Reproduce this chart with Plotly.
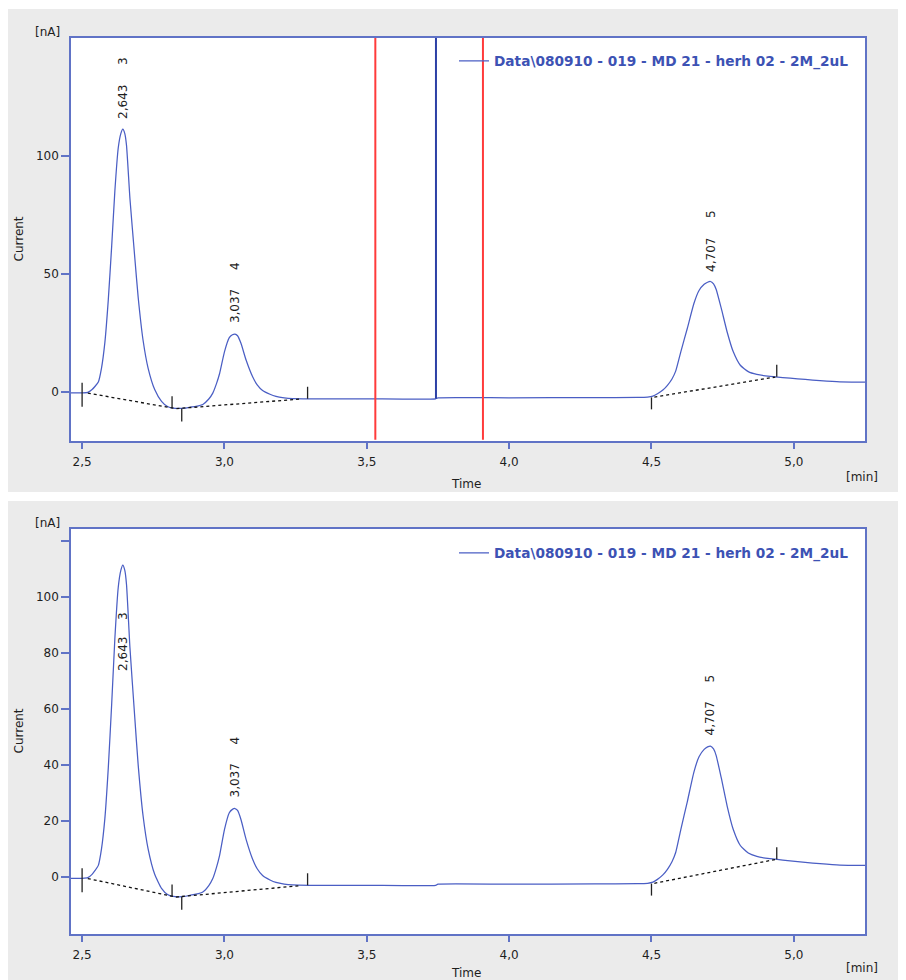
import plotly.graph_objects as go

# ---------------- data ----------------
time_min = [2.461, 2.50, 2.52, 2.535, 2.545, 2.557, 2.568, 2.580, 2.592, 2.604,
            2.615, 2.627, 2.636, 2.643, 2.650, 2.656, 2.668, 2.685, 2.697, 2.714,
            2.732, 2.755, 2.779, 2.80, 2.82, 2.84, 2.86, 2.878, 2.90, 2.924,
            2.945, 2.959, 2.972, 2.983, 3.000, 3.017, 3.028, 3.037, 3.046, 3.058,
            3.076, 3.099, 3.115, 3.134, 3.16, 3.181, 3.21, 3.24, 3.30, 3.50,
            3.742, 3.75, 4.00, 4.30, 4.45, 4.486, 4.505, 4.521, 4.54, 4.556,
            4.572, 4.585, 4.603, 4.626, 4.649, 4.667, 4.685, 4.697, 4.707, 4.718,
            4.727, 4.745, 4.766, 4.787, 4.812, 4.84, 4.87, 4.90, 4.935, 4.987,
            5.04, 5.092, 5.162, 5.25]
current_nA = [-0.4, -0.4, -0.2, 1.0, 2.3, 4.2, 10.0, 21.0, 39.0, 62.0,
              85.0, 103.5, 109.5, 111.4, 109.5, 104.5, 82.0, 57.0, 40.0, 22.0,
              10.0, 1.0, -4.0, -6.2, -6.9, -7.0, -6.9, -6.5, -6.1, -5.3,
              -3.0, -0.5, 3.5, 7.8, 17.0, 23.0, 24.2, 24.5, 23.8, 20.6,
              13.5, 6.4, 3.0, 0.6, -1.0, -1.9, -2.5, -2.8, -2.9, -2.9,
              -2.9, -2.5, -2.5, -2.4, -2.35, -2.2, -1.8, -0.8, 0.8, 2.8,
              5.5, 8.8, 17.0, 27.0, 37.5, 43.0, 45.6, 46.5, 46.8, 45.8,
              43.5, 35.5, 25.3, 17.1, 11.3, 8.6, 7.4, 6.8, 6.4, 5.8,
              5.3, 4.8, 4.3, 4.2]

series_name = "Data\\080910 - 019 - MD 21 - herh 02 - 2M_2uL"

peak_times = [2.643, 3.037, 4.707]
peak_heights = [111.4, 24.5, 46.8]
peak_time_labels = ["2,643", "3,037", "4,707"]
peak_numbers = ["3", "4", "5"]

baseline1_t = [2.52, 2.83, 3.27]
baseline1_y = [-0.5, -7.1, -3.0]
baseline2_t = [4.51, 4.935]
baseline2_y = [-2.2, 6.3]

delimiter_t = [2.50, 2.816, 2.85, 3.292, 4.50, 4.94]
delimiter_y = [-0.4, -6.9, -7.0, -2.9, -2.3, 6.4]

red_cursor_t = [3.53, 3.908]
blue_cursor_t = 3.743
blue_cursor_y = -2.9

x_tickvals = [2.5, 3.0, 3.5, 4.0, 4.5, 5.0]
x_ticktext = ["2,5", "3,0", "3,5", "4,0", "4,5", "5,0"]
y1_tickvals = [0, 50, 100]
y1_ticktext = ["0", "50", "100"]
y2_tickvals = [0, 20, 40, 60, 80, 100, 120]
y2_ticktext = ["0", "20", "40", "60", "80", "100", ""]

# ---------------- styles ----------------
OFF = 8                      # page body margin
W, H = 906 - OFF, 980 - OFF  # figure size
FRAME = "#6073c6"
TRACE = "#4a5ec4"
LEGEND_TXT = "#3d52b4"
GRAY = "#ebebeb"
TXT = "#1e1e1e"
FONT = "DejaVu Sans"

# delimiter tick pixel extents (up, down)
delim_px = [(10, -14), (12, 0), (0, -13), (12, 0), (0, -12), (12, 0)]
# label offsets (px) for [time label, number label] per panel
label_shift_top = [(8, 62), (9, 62), (8, 62)]
label_shift_bot = [(-108, -57), (9, 62), (9, 62)]


def px_x(p):
    return (p - OFF) / W


def px_y(p):
    return 1 - (p - OFF) / H


fig = go.Figure()

panels = [
    dict(x="x", y="y", legend="legend", shifts=label_shift_top),
    dict(x="x2", y="y2", legend="legend2", shifts=label_shift_bot),
]

shapes = []
annotations = []

# gray panel backgrounds
shapes.append(dict(type="rect", xref="paper", yref="paper", x0=px_x(7), x1=1,
                   y0=px_y(492), y1=px_y(9), fillcolor=GRAY, line_width=0, layer="below"))
shapes.append(dict(type="rect", xref="paper", yref="paper", x0=px_x(7), x1=1,
                   y0=0, y1=px_y(501), fillcolor=GRAY, line_width=0, layer="below"))

for i, p in enumerate(panels):
    fig.add_trace(go.Scatter(x=time_min, y=current_nA, mode="lines",
                             line=dict(color=TRACE, width=1.25, shape="spline", smoothing=0.5),
                             name=series_name,
                             xaxis=p["x"], yaxis=p["y"], legend=p["legend"],
                             showlegend=True))
    fig.add_trace(go.Scatter(x=baseline1_t, y=baseline1_y, mode="lines",
                             line=dict(color="#111111", width=1.3, dash="3px,3px"),
                             xaxis=p["x"], yaxis=p["y"], showlegend=False, hoverinfo="skip"))
    fig.add_trace(go.Scatter(x=baseline2_t, y=baseline2_y, mode="lines",
                             line=dict(color="#111111", width=1.3, dash="3px,3px"),
                             xaxis=p["x"], yaxis=p["y"], showlegend=False, hoverinfo="skip"))
    # white plot area
    shapes.append(dict(type="rect", xref=f"{p['x']} domain", yref=f"{p['y']} domain",
                       x0=0, x1=1, y0=0, y1=1, fillcolor="white", line_width=0, layer="below"))
    # delimiter ticks
    for t, yv, (up, dn) in zip(delimiter_t, delimiter_y, delim_px):
        shapes.append(dict(type="line", xref=p["x"], yref=p["y"], x0=t, x1=t,
                           ysizemode="pixel", yanchor=yv, y0=dn, y1=up,
                           line=dict(color="#222222", width=1.3)))
    # peak labels
    for t, h, tl, num, (s1, s2) in zip(peak_times, peak_heights, peak_time_labels,
                                       peak_numbers, p["shifts"]):
        annotations.append(dict(x=t, y=h, xref=p["x"], yref=p["y"], text=tl,
                                textangle=-90, showarrow=False, yanchor="bottom",
                                xanchor="center", yshift=s1,
                                font=dict(family=FONT, size=12, color=TXT)))
        annotations.append(dict(x=t, y=h, xref=p["x"], yref=p["y"], text=num,
                                textangle=-90, showarrow=False, yanchor="bottom",
                                xanchor="center", yshift=s2,
                                font=dict(family=FONT, size=12, color=TXT)))

# cursor lines (top panel only)
for t in red_cursor_t:
    shapes.append(dict(type="line", xref="x", yref="y domain", x0=t, x1=t, y0=0.003, y1=1,
                       line=dict(color="#ff3b3b", width=2)))
shapes.append(dict(type="line", xref="x", yref="y", x0=blue_cursor_t, x1=blue_cursor_t,
                   y0=blue_cursor_y, y1=150, line=dict(color="#2c40a6", width=2)))

txt_font = dict(family=FONT, size=12, color=TXT)
# axis unit / title texts
for top_px, ydom in [(32, "y domain"), (523, "y2 domain")]:
    annotations.append(dict(x=px_x(47), y=px_y(top_px), xref="paper", yref="paper",
                            text="[nA]", showarrow=False, xanchor="center", yanchor="middle",
                            font=txt_font))
    annotations.append(dict(x=px_x(18), y=0.5, xref="paper", yref=ydom,
                            text="Current", textangle=-90, showarrow=False,
                            xanchor="center", yanchor="middle", font=txt_font))
for tpx, mpx in [(484, 477), (973, 968)]:
    annotations.append(dict(x=px_x(466), y=px_y(tpx), xref="paper", yref="paper",
                            text="Time", showarrow=False, xanchor="center", yanchor="middle",
                            font=txt_font))
    annotations.append(dict(x=px_x(862), y=px_y(mpx), xref="paper", yref="paper",
                            text="[min]", showarrow=False, xanchor="center", yanchor="middle",
                            font=txt_font))

xdom = [px_x(71), px_x(865)]
common_x = dict(domain=xdom, range=[2.461, 5.25], tickvals=x_tickvals, ticktext=x_ticktext,
                ticks="outside", ticklen=6, tickcolor=FRAME, tickwidth=1.5,
                ticklabelstandoff=3,
                showline=True, linecolor=FRAME, linewidth=1.5, mirror=True,
                showgrid=False, zeroline=False,
                tickfont=dict(family=FONT, size=12, color=TXT))
common_y = dict(ticks="outside", ticklen=8, tickcolor=FRAME, tickwidth=1.5,
                showline=True, linecolor=FRAME, linewidth=1.5, mirror=True,
                showgrid=False, zeroline=False,
                tickfont=dict(family=FONT, size=12, color=TXT))

legend_common = dict(x=px_x(454), xanchor="left", yanchor="middle",
                     bgcolor="rgba(0,0,0,0)", borderwidth=0,
                     font=dict(family=FONT, size=13.7, color=LEGEND_TXT, weight="bold"))

fig.update_layout(
    width=W, height=H,
    margin=dict(l=0, r=0, t=0, b=0),
    paper_bgcolor="white", plot_bgcolor="white",
    xaxis=dict(common_x, anchor="y"),
    xaxis2=dict(common_x, anchor="y2"),
    yaxis=dict(common_y, domain=[px_y(441), px_y(38)], range=[-20.8, 150.0],
               tickvals=y1_tickvals, ticktext=y1_ticktext, anchor="x"),
    yaxis2=dict(common_y, domain=[px_y(934), px_y(529)], range=[-20.3, 124.3],
                tickvals=y2_tickvals, ticktext=y2_ticktext, anchor="x2"),
    legend=dict(legend_common, y=px_y(61)),
    legend2=dict(legend_common, y=px_y(553)),
    shapes=shapes,
    annotations=annotations,
    showlegend=True,
)

fig.write_html("out.html")
